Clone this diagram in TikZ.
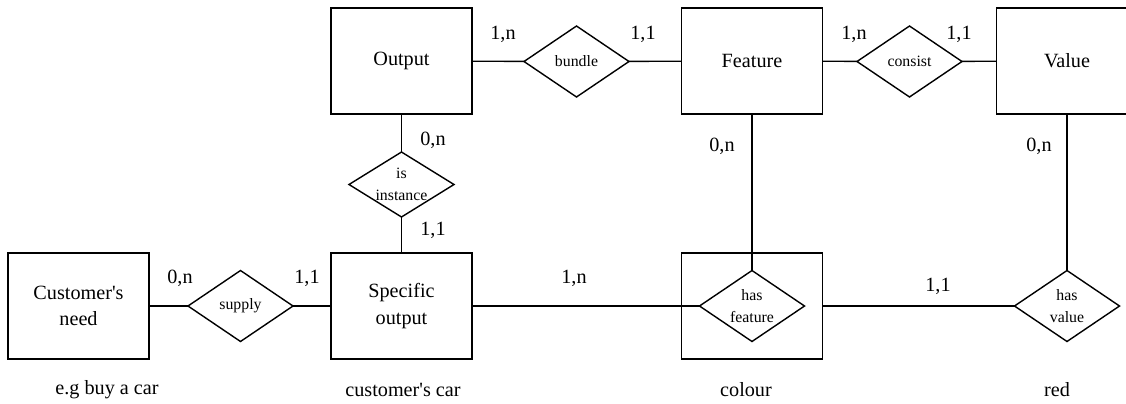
\documentclass[tikz,border=0pt]{standalone}
\usepackage{fontspec}
\setmainfont{Liberation Serif}
\usepackage{tikz}
\usetikzlibrary{shapes.geometric}
\newcommand{\erBig}{\fontsize{11.5}{15}\selectfont}
\newcommand{\erSmall}{\fontsize{9}{12.5}\selectfont}
\begin{document}
\begin{tikzpicture}[
  x=0.02cm, y=-0.02cm,
  entity/.style={draw, line width=1pt, minimum width=2.82cm,
                 minimum height=2.12cm, font=\erBig, align=center,
                 inner sep=0pt, outer sep=0pt},
  rel/.style={draw, diamond, aspect=1.6, line width=0.8pt, inner sep=0pt,
              outer sep=0pt, minimum width=2.1cm, minimum height=1.42cm,
              font=\erSmall, align=center},
  card/.style={font=\erBig, inner sep=0pt},
  note/.style={font=\erBig, inner sep=0pt},
  link/.style={line width=0.8pt},
]
\useasboundingbox (0,0) rectangle (1126,403);

% =========================================================================
% Geometry in pixels of the sketch: top row centred on y=61, bottom row
% on y=306, entity boxes 141 x 106, relationship diamonds 105 wide.
% =========================================================================

% ---- entities -----------------------------------------------------------
\node[entity] (output)  at (401.5,61)  {Output};
\node[entity] (feature) at (752,61)    {Feature};
\node[entity] (value)   at (1067,61)   {Value};
\node[entity] (need)    at (78.5,306)  {Customer\textquotesingle s\\need};
\node[entity] (specout) at (401.5,306) {Specific\\output};
\node[entity] (hfbox)   at (752,306)   {};

% ---- relationships ------------------------------------------------------
\node[rel] (bundle)  at (576.5,61.5) {bundle};
\node[rel] (consist) at (909.5,61.5) {consist};
\node[rel, minimum height=1.3cm] (isinst) at (401.5,184.5) {is\\instance};
\node[rel] (supply)  at (240.5,306)  {supply};
\node[rel] (hasfeat) at (752,306)    {has\\feature};
\node[rel] (hasval)  at (1067,306)   {has\\value};

% ---- connectors ---------------------------------------------------------
\draw[link] (output)  -- (bundle);
\draw[link] (bundle)  -- (feature);
\draw[link] (feature) -- (consist);
\draw[link] (consist) -- (value);
\draw[link] (output.south)  -- (isinst.north);
\draw[link] (isinst.south)  -- (specout.north);
\draw[link] (need.east)     -- (supply.west);
\draw[link] (supply.east)   -- (specout.west);
\draw[link] (specout.east)  -- (hasfeat.west);
\draw[link] (feature.south) -- (hasfeat.north);
\draw[link] (hfbox.east)    -- (hasval.west);
\draw[link] (value.south)   -- (hasval.north);

% ---- cardinalities ------------------------------------------------------
\node[card] (c1)  at (503,34)  {1,n};
\node[card] (c2)  at (643,34)  {1,1};
\node[card] (c3)  at (854,34)  {1,n};
\node[card] (c4)  at (959,34)  {1,1};
\node[card] (c5)  at (433,140) {0,n};
\node[card] (c6)  at (433,230) {1,1};
\node[card] (c7)  at (722,146) {0,n};
\node[card] (c8)  at (1039,146) {0,n};
\node[card] (c9)  at (180,278) {0,n};
\node[card] (c10) at (307,278) {1,1};
\node[card] (c11) at (574,278) {1,n};
\node[card] (c12) at (938,286) {1,1};

% ---- examples under the bottom row --------------------------------------
\node[note] (ex1) at (107,390)  {e.g buy a car};
\node[note] (ex2) at (403,390)  {customer\textquotesingle s car};
\node[note] (ex3) at (746,390)  {colour};
\node[note] (ex4) at (1057,390) {red};

\end{tikzpicture}
\end{document}
